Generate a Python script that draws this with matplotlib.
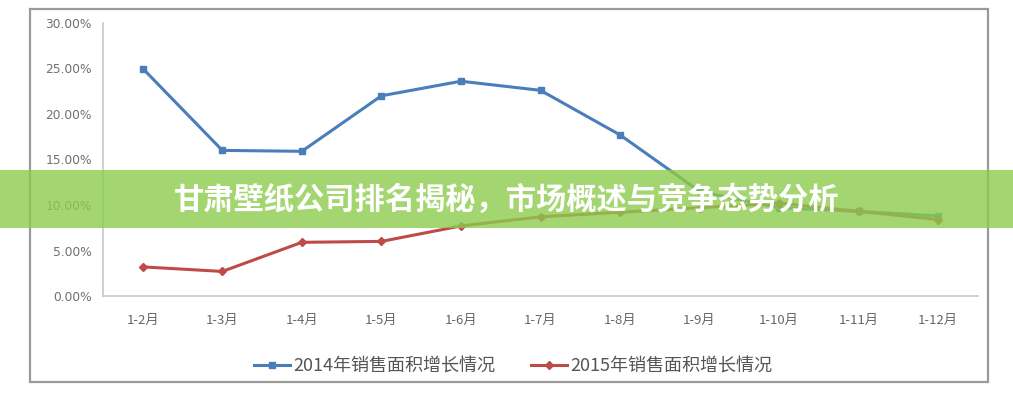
import matplotlib
matplotlib.use("Agg")
import matplotlib.pyplot as plt
from matplotlib.patches import Rectangle
from matplotlib.ticker import FuncFormatter, MultipleLocator

plt.rcParams['font.family'] = ['Noto Sans CJK SC', 'DejaVu Sans']

categories = ["1-2月", "1-3月", "1-4月", "1-5月", "1-6月", "1-7月",
              "1-8月", "1-9月", "1-10月", "1-11月", "1-12月"]
growth_2014 = [25.0, 16.0, 15.9, 22.0, 23.6, 22.6, 17.7, 11.5, 9.7, 9.3, 8.8]
growth_2015 = [3.2, 2.7, 5.9, 6.0, 7.7, 8.7, 9.2, 9.7, 10.2, 9.3, 8.4]
label_2014 = "2014年销售面积增长情况"
label_2015 = "2015年销售面积增长情况"
banner_title = "甘肃壁纸公司排名揭秘，市场概述与竞争态势分析"

W, H = 1013, 400
fig = plt.figure(figsize=(W / 100, H / 100), dpi=100)
fig.patch.set_facecolor("white")

# outer frame
fig.patches.append(Rectangle((30 / W, 1 - 382 / H), (988 - 30) / W, (382 - 9) / H,
                             transform=fig.transFigure, fill=False,
                             edgecolor="#9a9a9a", linewidth=1.6, zorder=0))

ax = fig.add_axes([103 / W, 1 - 296 / H, (978 - 103) / W, (296 - 23) / H])
x = list(range(len(categories)))
ax.plot(x, [v / 100 for v in growth_2014], color="#4A7EBB", linewidth=2.2,
        marker="s", markersize=5, label=label_2014)
ax.plot(x, [v / 100 for v in growth_2015], color="#BE4B48", linewidth=2.2,
        marker="D", markersize=4.5, label=label_2015)

ax.set_xlim(-0.5, len(categories) - 0.5)
ax.set_ylim(0, 0.30)
ax.yaxis.set_major_locator(MultipleLocator(0.05))
ax.yaxis.set_major_formatter(FuncFormatter(lambda v, p: f"{v * 100:.2f}%"))
ax.set_xticks(x)
ax.set_xticklabels(categories)
for s in ["top", "right"]:
    ax.spines[s].set_visible(False)
for s in ["left", "bottom"]:
    ax.spines[s].set_color("#c8c8c8")
    ax.spines[s].set_linewidth(1.2)
ax.tick_params(axis="x", length=0, pad=13, labelsize=9.5, labelcolor="#666666")
ax.tick_params(axis="y", length=0, pad=8, labelsize=8.8, labelcolor="#707070")
for lbl in ax.get_yticklabels():
    lbl.set_family("DejaVu Sans")

leg = ax.legend(loc="center", bbox_to_anchor=(513 / W, 1 - 366 / H),
                bbox_transform=fig.transFigure, ncol=2, frameon=False,
                fontsize=13, handlelength=2.0, handletextpad=0.15,
                columnspacing=2.0)
for t in leg.get_texts():
    t.set_color("#555555")

# banner
fig.patches.append(Rectangle((0, 1 - 228 / H), 1, (228 - 170) / H,
                             transform=fig.transFigure,
                             facecolor=(0.55, 0.80, 0.30), alpha=0.8,
                             edgecolor="none", zorder=10))
fig.text(507 / W, 1 - 200 / H, banner_title, ha="center", va="center",
         color="white", fontsize=21.8, fontweight="bold", zorder=11)

fig.savefig("out.png", dpi=100)
